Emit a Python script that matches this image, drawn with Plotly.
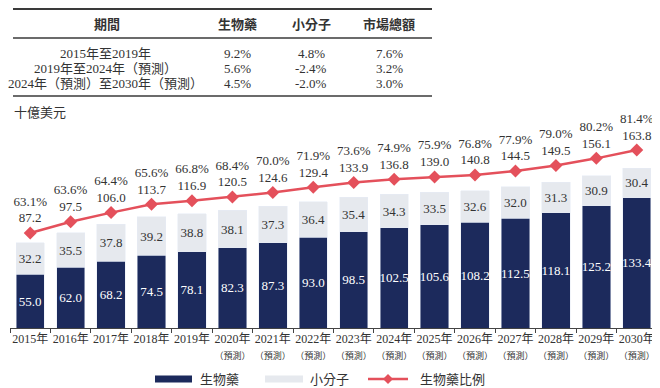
import plotly.graph_objects as go

# ---------------- data ----------------
years = ["2015年", "2016年", "2017年", "2018年", "2019年", "2020年", "2021年", "2022年",
         "2023年", "2024年", "2025年", "2026年", "2027年", "2028年", "2029年", "2030年"]
forecast = [False] * 5 + [True] * 11
bio = [55.0, 62.0, 68.2, 74.5, 78.1, 82.3, 87.3, 93.0, 98.5, 102.5, 105.6, 108.2, 112.5, 118.1, 125.2, 133.4]
small = [32.2, 35.5, 37.8, 39.2, 38.8, 38.1, 37.3, 36.4, 35.4, 34.3, 33.5, 32.6, 32.0, 31.3, 30.9, 30.4]
total = [87.2, 97.5, 106.0, 113.7, 116.9, 120.5, 124.6, 129.4, 133.9, 136.8, 139.0, 140.8, 144.5, 149.5, 156.1, 163.8]
share = [63.1, 63.6, 64.4, 65.6, 66.8, 68.4, 70.0, 71.9, 73.6, 74.9, 75.9, 76.8, 77.9, 79.0, 80.2, 81.4]

table_header = ["期間", "生物藥", "小分子", "市場總額"]
table_periods = ["2015年至2019年", "2019年至2024年（預測）", "2024年（預測）至2030年（預測）"]
cagr_bio = ["9.2%", "5.6%", "4.5%"]
cagr_small = ["4.8%", "-2.4%", "-2.0%"]
cagr_total = ["7.6%", "3.2%", "3.0%"]

unit_label = "十億美元"
forecast_label = "（預測）"
legend_names = ["生物藥", "小分子", "生物藥比例"]

# ---------------- style ----------------
# the page body has an 8px default margin; size the figure so it fits the window
OFF = 8
W, H = 660 - OFF, 388 - OFF
# plot area in window pixels: x 10..657, y 120..328
PL, PR, PT, PB = 10, 657, 120, 328
ML, MR, MT, MB = PL - OFF, 660 - PR, PT - OFF, 388 - PB
PW, PH = PR - PL, PB - PT
SERIF = "Liberation Serif, Noto Sans CJK TC, serif"
SANS = "Noto Sans CJK TC, sans-serif"
NAVY = "#1c2a5c"
LIGHT = "#e6e9ee"
RED = "#e4505b"
TXT = "#333333"


def px_x(x):
    return (x - PL) / PW


def px_y(y):
    return (PB - y) / PH


xlabels = [f"{y}<br><span style='font-size:9px'>{forecast_label}</span>" if f else y
           for y, f in zip(years, forecast)]

fig = go.Figure()
fig.add_trace(go.Bar(
    x=xlabels, y=bio, name=legend_names[0], marker_color=NAVY,
    text=[f"{v:.1f}" for v in bio], textposition="inside", insidetextanchor="middle",
    textfont=dict(color="white", size=13, family=SERIF), textangle=0, constraintext="none",
    showlegend=False,
))
fig.add_trace(go.Bar(
    x=xlabels, y=small, name=legend_names[1], marker_color=LIGHT,
    text=[f"{v:.1f}" for v in small], textposition="inside", insidetextanchor="middle",
    textfont=dict(color=TXT, size=13, family=SERIF), textangle=0, constraintext="none",
    showlegend=False,
))
fig.add_trace(go.Scatter(
    x=xlabels, y=total, name=legend_names[2], yaxis="y2",
    mode="lines+markers+text",
    line=dict(color=RED, width=2.5),
    marker=dict(symbol="diamond", size=10, color=RED),
    text=[f"{s:.1f}%<br>{t:.1f}" for s, t in zip(share, total)],
    textposition="top center",
    textfont=dict(color=TXT, size=13, family=SERIF),
    cliponaxis=False, showlegend=False,
))

annotations = []
shapes = []

# table lines
for y, w in [(9, 2), (38, 1.5), (96, 1.5)]:
    shapes.append(dict(type="line", xref="paper", yref="paper",
                       x0=px_x(13), x1=px_x(432), y0=px_y(y), y1=px_y(y),
                       line=dict(color="#3a3a3a", width=w)))

col_x = [107, 237, 311, 389]
for cx, h in zip(col_x, table_header):
    annotations.append(dict(xref="paper", yref="paper", x=px_x(cx), y=px_y(23.5),
                            text=f"<b>{h}</b>", showarrow=False, xanchor="center", yanchor="middle",
                            font=dict(family=SANS, size=13, color=TXT)))
row_y = [53, 68, 83]
for i, ry in enumerate(row_y):
    for cx, val in zip(col_x, [table_periods[i], cagr_bio[i], cagr_small[i], cagr_total[i]]):
        annotations.append(dict(xref="paper", yref="paper", x=px_x(cx if cx != 107 else 105), y=px_y(ry),
                                text=val, showarrow=False, xanchor="center", yanchor="middle",
                                font=dict(family=SERIF, size=13, color=TXT)))

annotations.append(dict(xref="paper", yref="paper", x=px_x(12), y=px_y(113),
                        text=unit_label, showarrow=False, xanchor="left", yanchor="middle",
                        font=dict(family=SERIF, size=13, color=TXT)))

# legend (drawn manually to match the reference's thin swatches)
LEG_Y = 379
shapes.append(dict(type="rect", xref="paper", yref="paper",
                   x0=px_x(155), x1=px_x(192), y0=px_y(LEG_Y - 3.5), y1=px_y(LEG_Y + 3.5),
                   fillcolor=NAVY, line=dict(width=0)))
shapes.append(dict(type="rect", xref="paper", yref="paper",
                   x0=px_x(265), x1=px_x(303), y0=px_y(LEG_Y - 3.5), y1=px_y(LEG_Y + 3.5),
                   fillcolor=LIGHT, line=dict(width=0)))
shapes.append(dict(type="line", xref="paper", yref="paper",
                   x0=px_x(368), x1=px_x(408), y0=px_y(LEG_Y), y1=px_y(LEG_Y),
                   line=dict(color=RED, width=2.5)))
dx, dy = 5, 5
cx0 = 388
shapes.append(dict(type="path", xref="paper", yref="paper",
                   path=(f"M {px_x(cx0 - dx)} {px_y(LEG_Y)} L {px_x(cx0)} {px_y(LEG_Y - dy)} "
                         f"L {px_x(cx0 + dx)} {px_y(LEG_Y)} L {px_x(cx0)} {px_y(LEG_Y + dy)} Z"),
                   fillcolor=RED, line=dict(width=0)))
for lx, name in zip([198, 308, 418], legend_names):
    annotations.append(dict(xref="paper", yref="paper", x=px_x(lx), y=px_y(LEG_Y),
                            text=name, showarrow=False, xanchor="left", yanchor="middle",
                            font=dict(family=SERIF, size=13, color=TXT)))

fig.update_layout(
    width=W, height=H,
    margin=dict(l=ML, r=MR, t=MT, b=MB, pad=0, autoexpand=False),
    paper_bgcolor="white", plot_bgcolor="white",
    barmode="stack", bargap=0.3,
    font=dict(family=SERIF, size=12, color=TXT),
    showlegend=False,
    xaxis=dict(range=[-0.5, len(years) - 0.5], autorange=False,
               showline=True, linecolor="#444", linewidth=1, ticks="outside",
               tickson="boundaries", ticklen=4, tickcolor="#444", tickangle=0,
               automargin=False,
               tickfont=dict(family=SERIF, size=12, color=TXT), fixedrange=True),
    yaxis=dict(range=[0, 213], visible=False, showgrid=False),
    yaxis2=dict(range=[-0.5, 191.5], overlaying="y", visible=False, showgrid=False),
    annotations=annotations,
    shapes=shapes,
)

fig.write_html("out.html")
